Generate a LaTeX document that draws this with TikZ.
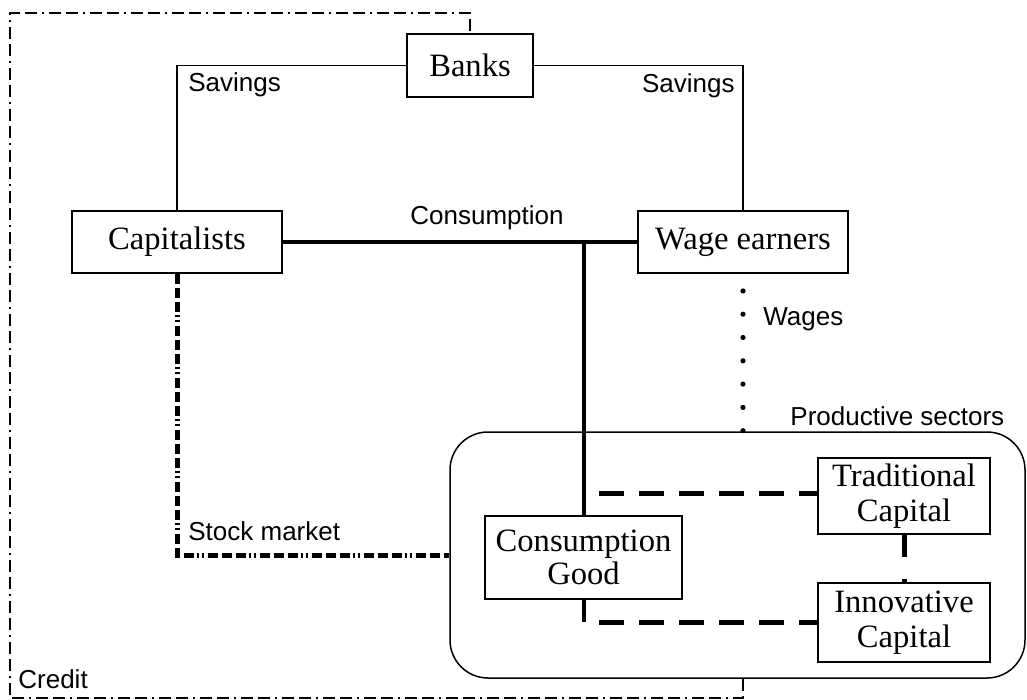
\documentclass[tikz,border=0pt]{standalone}
\usepackage{fontspec}
\setmainfont{Liberation Serif}
\setsansfont{Liberation Sans}
\begin{document}
\begin{tikzpicture}[x=0.5pt,y=-0.5pt,
  box/.style={draw,line width=0.9pt,inner sep=0pt,align=center,font=\fontsize{16.3}{17.5}\selectfont},
  lab/.style={inner sep=0pt,font=\sffamily\fontsize{13}{15}\selectfont},
  thin/.style={line width=0.75pt},
  thick2/.style={line width=2pt},
  dashthick/.style={line width=2.5pt,dash pattern=on 12.5pt off 7.5pt,dash phase=12.5pt},
  dotline/.style={line width=2.6pt,line cap=round,dash pattern=on 0pt off 11.65pt,dash phase=3.15pt},
  stockline/.style={line width=2.5pt,dash pattern=on 5pt off 2pt on 5pt off 2pt on 5pt off 1.5pt on 1pt off 1.5pt on 1pt off 2pt},
  creditline/.style={line width=0.8pt,dash pattern=on 6pt off 2.5pt on 6pt off 2.5pt on 1pt off 2.5pt}]
\useasboundingbox (0,0) rectangle (1027,700);
% nodes
\node[box,minimum width=63pt,minimum height=31.5pt] (banks) at (470,65.5) {Banks};
\node[box,minimum width=105pt,minimum height=31pt] (cap) at (177,242) {Capitalists};
\node[box,minimum width=105pt,minimum height=31pt] (wage) at (743,242) {Wage earners};
\node[draw,line width=0.75pt,rounded corners=19pt,minimum width=287.5pt,minimum height=123pt,inner sep=0pt] (ps) at (737.5,555) {};
\node[box,minimum width=98.5pt,minimum height=41.5pt,font=\fontsize{16.3}{16.5}\selectfont] (cg) at (583.5,557.5) {Consumption\\Good};
\node[box,minimum width=86pt,minimum height=38pt] (tc) at (904,496) {Traditional\\Capital};
\node[box,minimum width=86pt,minimum height=39.5pt] (ic) at (904,622.5) {Innovative\\Capital};
% labels
\node[lab,anchor=base west] (lsav) at (188,92) {Savings};
\node[lab,anchor=base east] (rsav) at (735,93) {Savings};
\node[lab,anchor=base west] (lcons) at (410,225) {Consumption};
\node[lab,anchor=base west] (lwages) at (763,325) {Wages};
\node[lab,anchor=base west] (lps) at (790,425) {Productive sectors};
\node[lab,anchor=base west] (lstock) at (188,540) {Stock market};
\node[lab,anchor=base west] (lcredit) at (18,688) {Credit};
% coordinates
\coordinate (j) at (cg.north |- cap.east);
\coordinate (t) at (583.5,493);
\coordinate (b) at (583.5,622);
\coordinate (c0) at (wage.south |- ps.south);
\coordinate (c1) at (743,698);
\coordinate (c2) at (10,698);
\coordinate (c3) at (10,13);
\coordinate (c4) at (banks.north |- c3);
% connectors
\draw[thin] (banks.west) -| (cap.north);
\draw[thin] (banks.east) -| (wage.north);
\draw[thick2] (cap.east) -- (wage.west);
\draw[thick2] (j) -- (cg.north);
\draw[thick2] (cg.south) -- (b);
\draw[dashthick] (t) -- (t -| tc.west);
\draw[dashthick] (b) -- (b -| ic.west);
\draw[line width=2.5pt,dash pattern=on 11pt off 11pt] (tc.south) -- (ic.north);
\draw[dotline] (wage.south) -- (wage.south |- ps.north);
\draw[stockline] (cap.south) |- (ps.west);
\draw[creditline] (c0) -- (c1) -- (c2) -- (c3) -- (c4) -- (banks.north);
\end{tikzpicture}
\end{document}
